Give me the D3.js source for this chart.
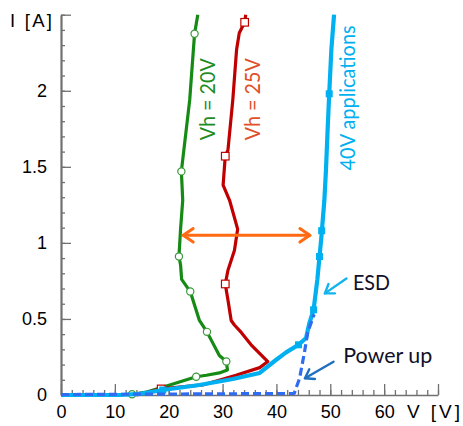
<!DOCTYPE html>
<html>
<head>
<meta charset="utf-8">
<script src="https://cdn.jsdelivr.net/npm/d3@7"></script>
<style>
  body { margin: 0; background: #fff; }
  svg { display: block; }
</style>
</head>
<body>
<svg id="chart"></svg>
<script>
// I-V curves, [V, I] pairs
const vh20 = [[13.2, 0.005], [15.9, 0.02], [20.2, 0.066], [25.1, 0.12], [27.0, 0.13], [29.4, 0.145],
  [30.9, 0.165], [30.7, 0.22], [29.4, 0.26], [27.1, 0.415], [25.7, 0.49], [24.0, 0.68], [22.4, 0.76],
  [22.2, 0.855], [21.9, 0.91], [22.2, 1.09], [22.6, 1.28], [22.35, 1.47], [23.9, 1.94], [24.8, 2.375], [25.4, 2.5]];
const vh20Marks = [[13.2, 0.005], [25.1, 0.12], [30.7, 0.22], [27.1, 0.415], [24.0, 0.68], [21.9, 0.91], [22.35, 1.47], [24.8, 2.375]];

const vh25 = [[14.0, 0], [18.6, 0.04], [26.3, 0.066], [32.5, 0.13], [36.9, 0.18], [38.4, 0.22], [35.3, 0.33],
  [33.5, 0.41], [32.2, 0.46], [31.6, 0.49], [31.0, 0.625], [30.5, 0.73], [31.0, 0.82], [32.2, 0.95],
  [32.8, 1.09], [31.3, 1.28], [30.1, 1.38], [30.5, 1.57], [31.0, 1.61], [31.9, 1.94], [32.6, 2.27],
  [33.1, 2.38], [34.1, 2.45], [34.3, 2.5]];
const vh25Marks = [[18.6, 0.04], [30.5, 0.73], [30.5, 1.57], [34.1, 2.45]];

const app40 = [[0, 0], [10.9, 0], [14.6, 0.007], [18.9, 0.033], [25.7, 0.066], [31.9, 0.105], [36.9, 0.145],
  [39.9, 0.23], [41.8, 0.28], [44.1, 0.33], [45.5, 0.375], [46.1, 0.47], [46.9, 0.56], [47.6, 0.76],
  [48.0, 0.91], [48.3, 1.02], [48.9, 1.28], [49.2, 1.48], [49.5, 1.74], [49.8, 1.98], [50.2, 2.27], [50.7, 2.5]];
const app40Marks = [[18.9, 0.033], [44.1, 0.33], [46.9, 0.56], [48.0, 0.91], [48.4, 1.08], [49.8, 1.98]];

const powerUp = [[0, 0.003], [43.3, 0.01], [44.3, 0.11], [45.2, 0.28], [45.8, 0.41], [46.4, 0.47], [47.0, 0.53]];

// axis ticks
const yMajor = [0, 0.5, 1, 1.5, 2, 2.5];
const yMinor = d3.range(0, 2.51, 0.1);
const xMajor = [0, 10, 20, 30, 40, 50, 60, 70];
const xMinor = d3.range(0, 70.1, 2);

// annotations (data units)
const spread = [[22.7, 1.05], [46.2, 1.05]];
const esdArrow = [[53.0, 0.766], [49.0, 0.668]];
const powerArrow = [[50.6, 0.219], [45.3, 0.11]];

const width = 463, height = 426;
const x = d3.scaleLinear().domain([0, 70]).range([61, 438]);
const y = d3.scaleLinear().domain([0, 2.5]).range([395, 14.7]);

const svg = d3.select('#chart').attr('width', width).attr('height', height);

// axes
svg.append('g')
  .attr('transform', 'translate(' + x(0) + ',0)')
  .call(d3.axisLeft(y).tickValues(yMinor).tickSize(-4).tickSizeOuter(0).tickFormat(''))
  .call(g => g.select('.domain').remove());
svg.append('g')
  .attr('transform', 'translate(' + x(0) + ',0)')
  .call(d3.axisLeft(y).tickValues(yMajor).tickSize(-10).tickSizeOuter(0).tickPadding(14)
    .tickFormat(d => d === 2.5 ? '' : d3.format('')(d)))
  .call(g => g.select('.domain').attr('stroke-width', 2.2));

svg.append('g')
  .attr('transform', 'translate(0,' + y(0) + ')')
  .call(d3.axisBottom(x).tickValues(xMinor).tickSize(-5).tickSizeOuter(0).tickFormat(''))
  .call(g => g.select('.domain').remove());
svg.append('g')
  .attr('transform', 'translate(0,' + y(0) + ')')
  .call(d3.axisBottom(x).tickValues(xMajor).tickSize(-11).tickSizeOuter(0).tickPadding(10)
    .tickFormat(d => d === 70 ? '' : d))
  .call(g => g.select('.domain').attr('stroke-width', 1.5));

svg.selectAll('.tick line, .domain').attr('stroke', '#707070');
svg.selectAll('.tick line').attr('stroke-width', 1.3);
svg.selectAll('.tick text')
  .attr('font-family', 'Liberation Sans, Arial, sans-serif')
  .attr('font-size', 18)
  .attr('fill', '#000');

svg.append('text')
  .attr('x', 10).attr('y', 26.7)
  .attr('font-family', 'Liberation Sans, Arial, sans-serif')
  .attr('font-size', 18.5)
  .attr('textLength', 42).attr('lengthAdjust', 'spacing')
  .text('I [A]');
svg.append('text')
  .attr('x', 407).attr('y', 418.3)
  .attr('font-family', 'Liberation Sans, Arial, sans-serif')
  .attr('font-size', 19)
  .attr('textLength', 53).attr('lengthAdjust', 'spacing')
  .text('V [V]');

// curves
const line = d3.line().x(d => x(d[0])).y(d => y(d[1]));
const plot = svg.append('g');

function drawCurve(data, color, w, dash) {
  plot.append('path')
    .datum(data)
    .attr('d', line)
    .attr('fill', 'none')
    .attr('stroke', color)
    .attr('stroke-width', w)
    .attr('stroke-linejoin', 'round')
    .attr('stroke-dasharray', dash || null);
}

drawCurve(vh20, '#158a15', 3.2);
plot.selectAll('.c20').data(vh20Marks).enter().append('circle')
  .attr('cx', d => x(d[0])).attr('cy', d => y(d[1])).attr('r', 3.6)
  .attr('fill', '#fff').attr('stroke', '#3a9a3a').attr('stroke-width', 1.2);

drawCurve(vh25, '#c00000', 3.2);
plot.selectAll('.s25').data(vh25Marks).enter().append('rect')
  .attr('x', d => x(d[0]) - 3.8).attr('y', d => y(d[1]) - 3.8)
  .attr('width', 7.6).attr('height', 7.6)
  .attr('fill', '#fff').attr('stroke', '#c00000').attr('stroke-width', 1.2);

drawCurve(app40, '#00b0f0', 4.2);
plot.selectAll('.s40').data(app40Marks).enter().append('rect')
  .attr('x', d => x(d[0]) - 3.5).attr('y', d => y(d[1]) - 3.5)
  .attr('width', 7).attr('height', 7)
  .attr('fill', '#00b0f0');

drawCurve(powerUp, '#2f6cf2', 3.2, '8,4');

// annotations
function arrow(pts, color, w, heads, size) {
  const p0 = [x(pts[0][0]), y(pts[0][1])];
  const p1 = [x(pts[1][0]), y(pts[1][1])];
  const g = svg.append('g').attr('stroke', color).attr('stroke-width', w)
    .attr('fill', 'none').attr('stroke-linecap', 'round').attr('stroke-linejoin', 'round');
  g.append('line').attr('x1', p0[0]).attr('y1', p0[1]).attr('x2', p1[0]).attr('y2', p1[1]);
  heads.forEach(h => {
    const tip = h ? p1 : p0, tail = h ? p0 : p1;
    const a = Math.atan2(tip[1] - tail[1], tip[0] - tail[0]);
    const l = [tip[0] - size * Math.cos(a - 0.6), tip[1] - size * Math.sin(a - 0.6)];
    const r = [tip[0] - size * Math.cos(a + 0.6), tip[1] - size * Math.sin(a + 0.6)];
    g.append('path').attr('d', 'M' + l + 'L' + tip + 'L' + r);
  });
}
arrow(spread, '#ff6a13', 3, [0, 1], 12);
arrow(esdArrow, '#12b4ee', 2.4, [1], 10);
arrow(powerArrow, '#1f6fc0', 2.4, [1], 10);

const labelFont = 'Lato, "Noto Sans", sans-serif';
function vLabel(v, i, txt, color, len) {
  svg.append('text')
    .attr('transform', 'translate(' + x(v) + ',' + y(i) + ') rotate(-90)')
    .attr('text-anchor', 'middle')
    .attr('font-family', labelFont)
    .attr('font-size', 22)
    .attr('fill', color)
    .attr('textLength', len).attr('lengthAdjust', 'spacingAndGlyphs')
    .text(txt);
}
vLabel(28.6, 1.944, 'Vh = 20V', '#1e8c1e', 82);
vLabel(36.9, 1.944, 'Vh = 25V', '#e0502a', 82);
vLabel(54.6, 1.953, '40V applications', '#00b0f0', 145);

svg.append('text')
  .attr('x', x(54.2)).attr('y', y(0.69))
  .attr('font-family', labelFont).attr('font-size', 21).attr('fill', '#10102a')
  .attr('textLength', 37).attr('lengthAdjust', 'spacingAndGlyphs')
  .text('ESD');
svg.append('text')
  .attr('x', x(52.4)).attr('y', y(0.21))
  .attr('font-family', labelFont).attr('font-size', 21).attr('fill', '#10102a')
  .attr('textLength', 89).attr('lengthAdjust', 'spacingAndGlyphs')
  .text('Power up');
</script>
</body>
</html>
